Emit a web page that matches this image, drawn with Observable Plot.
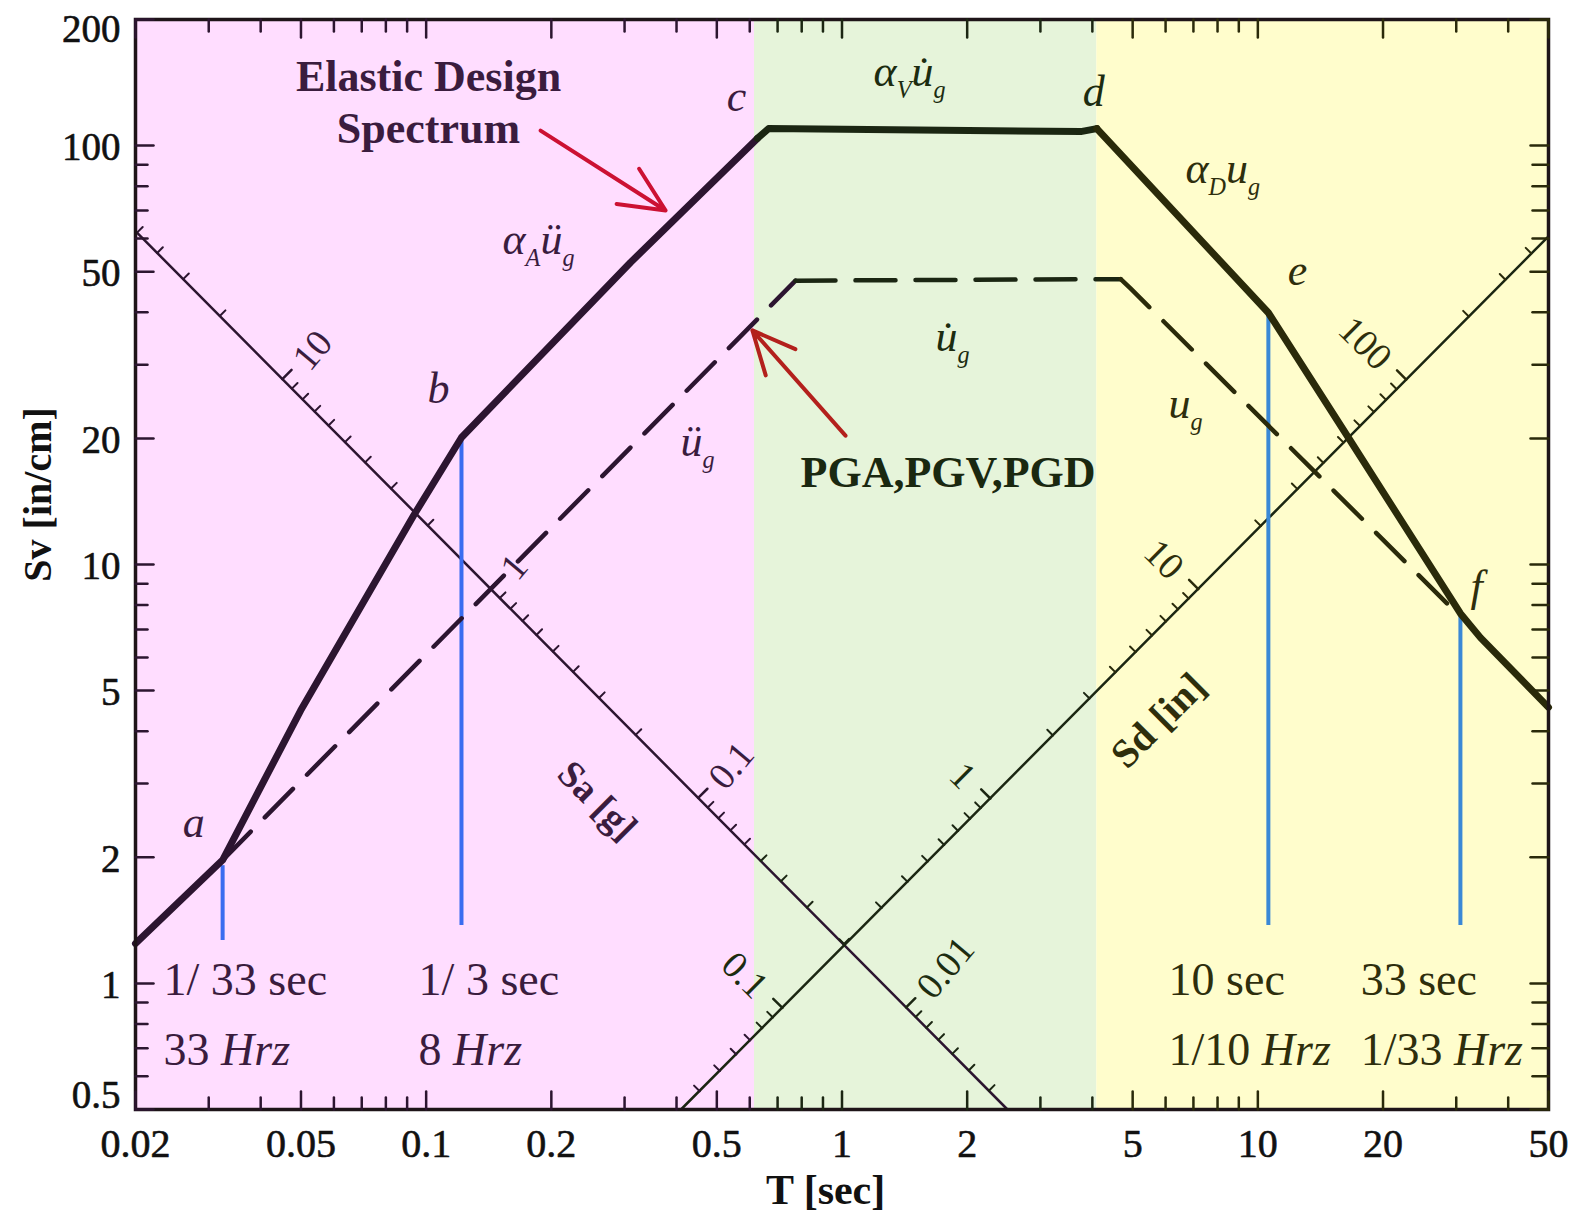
<!DOCTYPE html>
<html><head><meta charset="utf-8">
<script src="https://cdn.jsdelivr.net/npm/d3@7"></script>
<script src="https://cdn.jsdelivr.net/npm/@observablehq/plot@0.6"></script>
<style>body{margin:0;background:#fff} #chart svg{display:block}</style>
</head><body><div id="chart"></div>
<script>
// ---------- data ----------
// period regions (acceleration / velocity / displacement controlled)
const regionStart = [0.02, 0.616, 4.10];
const regionEnd   = [0.616, 4.10, 50];
const regionFill  = ["#FFDDFF", "#E6F4DA", "#FFFDCC"];
const regionInk   = ["#2c1530", "#1b2612", "#2a2a0a"];
const regionText  = ["#3a1c3e", "#1c2c10", "#2e2e0c"];

// elastic design spectrum (thick line)
const spectrumT  = [0.02, 0.0324, 0.0499, 0.0933, 0.1216, 0.31, 0.626, 0.666, 3.75, 4.10, 10.6, 16.5, 30.7, 34.3, 50];
const spectrumSv = [1.245, 1.97, 4.48, 13.09, 20.1, 52.6, 104, 109.8, 108, 109.8, 39.9, 20.1, 7.64, 6.69, 4.56];

// ground motion (dashed line)
const groundT  = [0.0324, 0.773, 4.68, 4.94, 29.9];
const groundSv = [1.97, 47.6, 48.0, 45.6, 7.7];

// tripartite axes (end points)
const saAxisT  = [0.02, 2.5];
const saAxisSv = [62.5, 0.5];
const sdAxisT  = [0.41, 50];
const sdAxisSv = [0.5, 60.75];
const gravity  = 386.1;            // in/s^2
const decadeSteps = [1, 2, 3, 4, 5, 6, 7, 8, 9];
const saDecades = [0.001, 0.01, 0.1, 1, 10];
const sdDecades = [0.01, 0.1, 1, 10, 100];
const saLabels = [10, 1, 0.1, 0.01];
const sdLabels = [0.1, 1, 10, 100];

// main axes ticks
const xMajor = [0.02, 0.05, 0.1, 0.2, 0.5, 1, 2, 5, 10, 20, 50];
const xMinor = [0.03, 0.04, 0.06, 0.07, 0.08, 0.09, 0.3, 0.4, 0.6, 0.7, 0.8, 0.9, 3, 4, 6, 7, 8, 9, 30, 40];
const yMajor = [0.5, 1, 2, 5, 10, 20, 50, 100, 200];
const yMinor = [0.6, 0.7, 0.8, 0.9, 3, 4, 6, 7, 8, 9, 30, 40, 60, 70, 80, 90];

// blue period markers
const blueT     = [0.0324, 0.1216, 10.6, 30.7];
const blueTop   = [1.91, 20.1, 39.9, 7.64];
const blueBot   = [1.266, 1.375, 1.375, 1.375];
const blueColor = ["#3a6cf0", "#3a6cf0", "#3a88d6", "#3a88d6"];

// point letters
const pointText = ["a", "b", "c", "d", "e", "f"];
const pointT    = [0.0276, 0.1071, 0.558, 4.03, 12.46, 33.6];
const pointSv   = [2.42, 26.3, 131, 134.6, 50.1, 8.86];

// symbolic labels (_x = subscript)
const symText = ["α_Aü_g", "α_Vu̇_g", "α_Du_g", "u̇_g", "ü_g", "u_g"];
const symT    = [0.1526, 1.191, 6.70, 1.679, 0.409, 6.10];
const symSv   = [59.7, 150.3, 88.2, 35.0, 19.66, 24.2];

// period / frequency notes (*...* = italic)
const noteText = ["1/ 33 sec", "33 *Hrz*", "1/ 3 sec", "8 *Hrz*", "10 sec", "1/10 *Hrz*", "33 sec", "1/33 *Hrz*"];
const noteT    = [0.02336, 0.02336, 0.0959, 0.0959, 6.10, 6.10, 17.67, 17.67];
const noteSv   = [1.016, 0.691, 1.016, 0.691, 1.016, 0.691, 1.016, 0.691];

// arrows
const arrowT1  = [0.1884, 1.0196];
const arrowSv1 = [108.6, 20.3];
const arrowT2  = [0.3766, 0.609];
const arrowSv2 = [70.0, 36.2];
const arrowColor = ["#cc1133", "#b3201c"];

// ---------- helpers ----------
const inkAt = T => regionInk[Math.max(0, regionStart.findLastIndex(s => T >= s))];
const textAt = T => regionText[Math.max(0, regionStart.findLastIndex(s => T >= s))];
const idx = a => a.map((_, i) => i);
const K1 = saAxisT[0] * saAxisSv[0];           // Sv*T along Sa axis
const K2 = sdAxisSv[1] / sdAxisT[1];           // Sv/T along Sd axis
const saPos = v => { const T = Math.sqrt(K1 * 2 * Math.PI / (gravity * v)); return {v, T, Sv: K1 / T}; };
const sdPos = v => { const T = Math.sqrt(2 * Math.PI * v / K2); return {v, T, Sv: K2 * T}; };
const saTicks = saDecades.flatMap(d => decadeSteps.map(m => ({...saPos(d * m), major: m === 1})))
  .filter(p => p.T >= saAxisT[0] && p.T <= saAxisT[1]);
const sdTicks = sdDecades.flatMap(d => decadeSteps.map(m => ({...sdPos(d * m), major: m === 1})))
  .filter(p => p.T >= sdAxisT[0] && p.T <= sdAxisT[1]);
const saLab = saLabels.map(saPos);
const sdLab = sdLabels.map(sdPos);

const spectrum = spectrumT.map((T, i) => ({T, Sv: spectrumSv[i]}));
const ground = groundT.map((T, i) => ({T, Sv: groundSv[i]}));
const tickShape = {draw(ctx, l) { ctx.moveTo(0, 0); ctx.lineTo(0, -l); }};
const FONT = "'Liberation Serif', 'Times New Roman', serif";

function edge(values, opts) {
  return Plot.vector(values, {anchor: "start", shape: tickShape, strokeWidth: 2.5, ...opts});
}
const yLabelStyle = {y: d => d, frameAnchor: "left", lineAnchor: "middle", dx: -15, text: d => String(d), textAnchor: "end", fontSize: 39, fill: "#111", stroke: "#111", strokeWidth: 0.6};
const yEdge = [yMajor[0], yMajor[yMajor.length - 1]];

const chart = Plot.plot({
  width: 1573, height: 1216,
  marginLeft: 135, marginRight: 25, marginTop: 19, marginBottom: 107,
  x: {type: "log", domain: [0.02, 50], axis: null},
  y: {type: "log", domain: [0.5, 200], axis: null},
  color: {type: "identity"},
  style: {fontFamily: FONT, background: "white", overflow: "visible"},
  marks: [
    Plot.rect(idx(regionStart), {x1: i => regionStart[i], x2: i => regionEnd[i], y1: 0.5, y2: 200, fill: i => regionFill[i]}),
    // tripartite axes
    Plot.line(idx(saAxisT), {x: i => saAxisT[i], y: i => saAxisSv[i], stroke: regionInk[0], strokeWidth: 2.5}),
    Plot.line(idx(sdAxisT), {x: i => sdAxisT[i], y: i => sdAxisSv[i], stroke: regionInk[1], strokeWidth: 2.5}),
    Plot.vector(saTicks.filter(d => !d.major), {x: "T", y: "Sv", rotate: 45, length: 8, anchor: "start", shape: tickShape, stroke: d => inkAt(d.T), strokeWidth: 2}),
    Plot.vector(saTicks.filter(d => d.major), {x: "T", y: "Sv", rotate: 45, length: 13, anchor: "start", shape: tickShape, stroke: d => inkAt(d.T), strokeWidth: 2.5}),
    Plot.vector(sdTicks.filter(d => !d.major), {x: "T", y: "Sv", rotate: -45, length: 8, anchor: "start", shape: tickShape, stroke: d => inkAt(d.T), strokeWidth: 2}),
    Plot.vector(sdTicks.filter(d => d.major), {x: "T", y: "Sv", rotate: -45, length: 13, anchor: "start", shape: tickShape, stroke: d => inkAt(d.T), strokeWidth: 2.5}),
    Plot.text(saLab, {x: "T", y: "Sv", text: d => String(d.v), rotate: -50, dx: 18, dy: -14, textAnchor: "start", fontSize: 38, fill: d => textAt(d.T)}),
    Plot.text(sdLab, {x: "T", y: "Sv", text: d => String(d.v), rotate: 45, dx: -21, dy: -16, textAnchor: "end", fontSize: 38, fill: d => textAt(d.T)}),
    Plot.text(["Sa [g]"], {x: () => 0.258, y: () => 2.73, rotate: 45, fontSize: 38, fontWeight: "bold", fill: regionText[0]}),
    Plot.text(["Sd [in]"], {x: () => 5.77, y: () => 4.24, rotate: -45, fontSize: 40, fontWeight: "bold", fill: regionText[2]}),
    // blue markers
    Plot.ruleX(idx(blueT), {x: i => blueT[i], y1: i => blueBot[i], y2: i => blueTop[i], stroke: i => blueColor[i], strokeWidth: 4}),
    // ground motion and spectrum
    Plot.line(ground, {x: "T", y: "Sv", z: null, stroke: d => inkAt(d.T), strokeWidth: 4.5, strokeDasharray: "40,20"}),
    Plot.line(spectrum, {x: "T", y: "Sv", z: null, stroke: d => inkAt(d.T), strokeWidth: 7, strokeLinejoin: "round"}),
    // arrows
    Plot.arrow(idx(arrowT1), {x1: i => arrowT1[i], y1: i => arrowSv1[i], x2: i => arrowT2[i], y2: i => arrowSv2[i], stroke: i => arrowColor[i], strokeWidth: 4, headLength: 24, headAngle: 50}),
    // annotations
    Plot.text(["Elastic Design\nSpectrum"], {x: () => 0.1013, y: () => 128.1, fontSize: 44, fontWeight: "bold", lineHeight: 1.18, fill: regionText[0]}),
    Plot.text(["PGA,PGV,PGD"], {x: () => 0.795, y: () => 16.5, textAnchor: "start", fontSize: 44, fontWeight: "bold", fill: "#1a2810"}),
    Plot.text(idx(pointText), {x: i => pointT[i], y: i => pointSv[i], text: i => pointText[i], fontSize: 44, fontStyle: "italic", fill: i => textAt(pointT[i])}),
    Plot.text(idx(symText), {x: i => symT[i], y: i => symSv[i], text: i => symText[i], textAnchor: "start", fontSize: 44, fontStyle: "italic", fill: i => textAt(symT[i])}),
    Plot.text(idx(noteText), {x: i => noteT[i], y: i => noteSv[i], text: i => noteText[i], textAnchor: "start", fontSize: 46, fill: i => textAt(noteT[i])}),
    // frame and main ticks
    Plot.frame({stroke: "#1e1418", strokeWidth: 3.5}),
    edge(xMajor, {x: d => d, frameAnchor: "bottom", rotate: 0, length: 18, stroke: d => inkAt(d)}),
    edge(xMinor, {x: d => d, frameAnchor: "bottom", rotate: 0, length: 12, stroke: d => inkAt(d)}),
    edge(xMajor, {x: d => d, frameAnchor: "top", rotate: 180, length: 18, stroke: d => inkAt(d)}),
    edge(xMinor, {x: d => d, frameAnchor: "top", rotate: 180, length: 12, stroke: d => inkAt(d)}),
    edge(yMajor, {y: d => d, frameAnchor: "left", rotate: 90, length: 18, stroke: regionInk[0]}),
    edge(yMinor, {y: d => d, frameAnchor: "left", rotate: 90, length: 12, stroke: regionInk[0]}),
    edge(yMajor, {y: d => d, frameAnchor: "right", rotate: -90, length: 18, stroke: regionInk[2]}),
    edge(yMinor, {y: d => d, frameAnchor: "right", rotate: -90, length: 16, stroke: regionInk[2]}),
    Plot.text(xMajor, {x: d => d, frameAnchor: "bottom", lineAnchor: "middle", dy: 35, text: d => String(d), fontSize: 40, fill: "#111", stroke: "#111", strokeWidth: 0.6}),
    Plot.text(yMajor.filter(d => !yEdge.includes(d)), {...yLabelStyle, dy: 2}),
    Plot.text([yEdge[1]], {...yLabelStyle, dy: 10}),
    Plot.text([yEdge[0]], {...yLabelStyle, dy: -14}),
    Plot.text(["T [sec]"], {x: () => 0.913, frameAnchor: "bottom", lineAnchor: "middle", dy: 81, fontSize: 42, fontWeight: "bold", fill: "#111"}),
    Plot.text(["Sv [in/cm]"], {y: () => 9.1, frameAnchor: "left", lineAnchor: "middle", dx: -97, rotate: -90, fontSize: 40, fontWeight: "bold", fill: "#111"})
  ]
});

// rich text: *italic* and _x subscripts
d3.select(chart).selectAll("text").each(function () {
  if (this.querySelector("tspan")) return;
  const s = this.textContent;
  if (!/[_*]/.test(s)) return;
  const tokens = [];
  let buf = "", italic = false;
  const flush = () => { if (buf) tokens.push({t: buf, italic, sub: false}); buf = ""; };
  for (let i = 0; i < s.length; i++) {
    const ch = s[i];
    if (ch === "*") { flush(); italic = !italic; }
    else if (ch === "_") { flush(); tokens.push({t: s[i + 1], italic, sub: true}); i++; }
    else buf += ch;
  }
  flush();
  this.textContent = "";
  let shifted = false;
  for (const tk of tokens) {
    const ts = d3.select(this).append("tspan").text(tk.t);
    if (tk.italic) ts.attr("font-style", "italic");
    if (tk.sub) {
      ts.attr("font-size", "0.55em");
      if (!shifted) { ts.attr("dy", 12); shifted = true; }
    } else if (shifted) { ts.attr("dy", -12); shifted = false; }
  }
});

document.getElementById("chart").append(chart);
</script>
</body></html>
